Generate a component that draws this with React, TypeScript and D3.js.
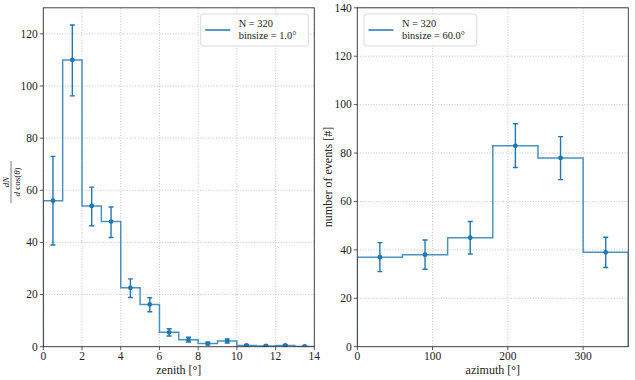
import React from 'react';
import * as d3 from 'd3';

// zenith histogram, bins of 1 degree
const zenithEdges = [0, 1, 2, 3, 4, 5, 6, 7, 8, 9, 10, 11, 12, 13, 14];
const zenithValues = [56, 110, 54, 48, 22.6, 16.2, 5.5, 2.7, 1.2, 2.2, 0.5, 0.3, 0.5, 0.1];
const zenithErrLow = [39, 96.2, 46.4, 41.9, 18.9, 13.4, 4.1, 1.8, 0.7, 1.4, 0.2, 0.1, 0.2, 0];
const zenithErrHigh = [73, 123.4, 61.2, 53.6, 26, 18.8, 6.9, 3.6, 1.7, 3, 0.8, 0.5, 0.8, 0.2];
const zenithXTicks = [0, 2, 4, 6, 8, 10, 12, 14];
const zenithYTicks = [0, 20, 40, 60, 80, 100, 120];

// azimuth histogram, bins of 60 degrees
const azimuthEdges = [0, 60, 120, 180, 240, 300, 360];
const azimuthValues = [37, 38, 45, 83, 78, 39];
const azimuthErrLow = [31, 32, 38.3, 74, 69, 32.7];
const azimuthErrHigh = [43, 44.1, 51.7, 92.1, 86.8, 45.2];
const azimuthXTicks = [0, 100, 200, 300];
const azimuthYTicks = [0, 20, 40, 60, 80, 100, 120, 140];

const legendLines = ['N = 320'];

const blue = '#1f77b4';
const font = "'Liberation Serif', serif";

type PanelProps = {
  edges: number[];
  values: number[];
  lo: number[];
  hi: number[];
  xDomain: [number, number];
  yDomain: [number, number];
  xTicks: number[];
  yTicks: number[];
  left: number;
  right: number;
  binLabel: string;
  legendX: number;
  legendW: number;
  xLabel: string;
  yLabel: React.ReactNode;
};

const top = 7.8;
const bottom = 346.7;

const Panel = (p: PanelProps) => {
  const x = d3.scaleLinear().domain(p.xDomain).range([p.left, p.right]);
  const y = d3.scaleLinear().domain(p.yDomain).range([bottom, top]);

  const pts: [number, number][] = [[p.edges[0], 0]];
  p.values.forEach((v, i) => {
    pts.push([p.edges[i], v]);
    pts.push([p.edges[i + 1], v]);
  });
  pts.push([p.edges[p.edges.length - 1], 0]);
  const line = d3.line<[number, number]>().x(d => x(d[0])).y(d => y(d[1]));

  const clipId = 'clip' + Math.round(p.left);
  const lx = p.legendX;
  return (
    <g>
      <defs>
        <clipPath id={clipId}>
          <rect x={p.left} y={top} width={p.right - p.left} height={bottom - top} />
        </clipPath>
      </defs>
      {/* grid */}
      {p.xTicks.map(t => (
        <line key={'gx' + t} x1={x(t)} x2={x(t)} y1={top} y2={bottom}
          stroke="#b8b8b8" strokeWidth={0.8} strokeDasharray="1,1.7" />
      ))}
      {p.yTicks.map(t => (
        <line key={'gy' + t} x1={p.left} x2={p.right} y1={y(t)} y2={y(t)}
          stroke="#b8b8b8" strokeWidth={0.8} strokeDasharray="1,1.7" />
      ))}
      <g clipPath={`url(#${clipId})`}>
        <path d={line(pts) || ''} fill="none" stroke={blue} strokeOpacity={0.8} strokeWidth={1.5} />
        {p.values.map((v, i) => {
          const cx = x((p.edges[i] + p.edges[i + 1]) / 2);
          return (
            <g key={'e' + i} stroke={blue} strokeWidth={1.4}>
              <line x1={cx} x2={cx} y1={y(p.lo[i])} y2={y(p.hi[i])} />
              <line x1={cx - 2.5} x2={cx + 2.5} y1={y(p.lo[i])} y2={y(p.lo[i])} />
              <line x1={cx - 2.5} x2={cx + 2.5} y1={y(p.hi[i])} y2={y(p.hi[i])} />
              <circle cx={cx} cy={y(v)} r={2.4} fill={blue} stroke="none" />
            </g>
          );
        })}
      </g>
      {/* spines */}
      <rect x={p.left} y={top} width={p.right - p.left} height={bottom - top}
        fill="none" stroke="#333" strokeWidth={0.9} />
      {/* ticks */}
      {p.xTicks.map(t => (
        <g key={'tx' + t}>
          <line x1={x(t)} x2={x(t)} y1={bottom} y2={bottom + 3.5} stroke="#333" strokeWidth={0.8} />
          <text x={x(t)} y={bottom + 13} textAnchor="middle" fontSize={11.5}>{t}</text>
        </g>
      ))}
      {p.yTicks.map(t => (
        <g key={'ty' + t}>
          <line x1={p.left - 3.5} x2={p.left} y1={y(t)} y2={y(t)} stroke="#333" strokeWidth={0.8} />
          <text x={p.left - 5.5} y={y(t) + 3.8} textAnchor="end" fontSize={11.5}>{t}</text>
        </g>
      ))}
      <text x={(p.left + p.right) / 2} y={374} textAnchor="middle" fontSize={12}>{p.xLabel}</text>
      {p.yLabel}
      {/* legend */}
      <rect x={lx} y={14} width={p.legendW} height={32} rx={2.5} fill="white" fillOpacity={0.85}
        stroke="#d0d0d0" strokeWidth={0.8} />
      <line x1={lx + 4.5} x2={lx + 29.5} y1={30} y2={30} stroke={blue} strokeWidth={1.5} />
      <text x={lx + 38} y={27} fontSize={10.4}>{legendLines[0]}</text>
      <text x={lx + 38} y={39.2} fontSize={10.4}>{p.binLabel}</text>
    </g>
  );
};

export default function App() {
  return (
    <svg width={635} height={380}
      style={{ position: 'absolute', left: 0, top: 0, background: 'white', fontFamily: font, fill: '#222' }}>
      <Panel
        edges={zenithEdges} values={zenithValues} lo={zenithErrLow} hi={zenithErrHigh}
        xDomain={[0, 14]} yDomain={[0, 130]} xTicks={zenithXTicks} yTicks={zenithYTicks}
        left={43.3} right={314.3} binLabel="binsize = 1.0°" legendX={200.7} legendW={107.6}
        xLabel="zenith [°]"
        yLabel={
          <g transform="translate(11,182) rotate(-90)">
            <text x={0} y={-2.5} textAnchor="middle" fontSize={9} fontStyle="italic">dN</text>
            <line x1={-21} x2={21} y1={0} y2={0} stroke="#222" strokeWidth={0.6} />
            <text x={0} y={8.5} textAnchor="middle" fontSize={9}><tspan fontStyle="italic">d</tspan> cos(<tspan fontStyle="italic">θ</tspan>)</text>
          </g>
        }
      />
      <Panel
        edges={azimuthEdges} values={azimuthValues} lo={azimuthErrLow} hi={azimuthErrHigh}
        xDomain={[0, 360]} yDomain={[0, 140]} xTicks={azimuthXTicks} yTicks={azimuthYTicks}
        left={357.3} right={628.3} binLabel="binsize = 60.0°" legendX={364} legendW={112.7}
        xLabel="azimuth [°]"
        yLabel={
          <text transform="translate(332,177) rotate(-90)" textAnchor="middle" fontSize={12}>number of events [#]</text>
        }
      />
    </svg>
  );
}
